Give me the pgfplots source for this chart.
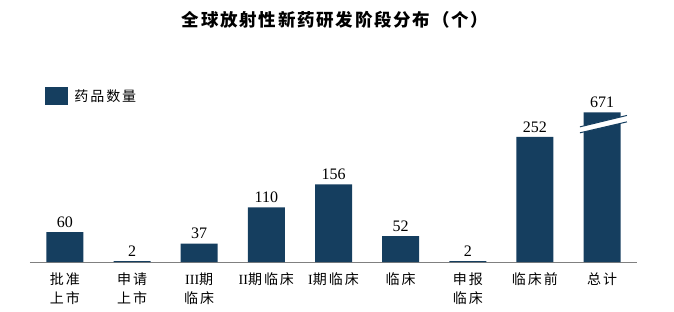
\documentclass[border=0pt]{standalone}
\usepackage{fontspec}
\setmainfont{Liberation Serif}
\newfontfamily\cjk[LetterSpace=14]{Noto Sans CJK SC}
\newfontfamily\cjkt[LetterSpace=10]{Noto Sans CJK SC}
\usepackage{pgfplots}
\pgfplotsset{compat=1.18}
\definecolor{barc}{HTML}{153E5F}
\begin{document}
\begin{tikzpicture}
\begin{axis}[
  name=ax,
  scale only axis,
  width=607pt, height=159pt,
  xmin=-0.52, xmax=8.52, ymin=0, ymax=320,
  hide y axis,
  axis x line*=bottom,
  x axis line style={draw=gray, line width=0.8pt, -},
  xtick={0,...,8},
  xtick style={draw=none},
  xticklabels={{批准\\上市},{申请\\上市},{{\rmfamily III}期\\临床},{{\rmfamily II}期临床},{{\rmfamily I}期临床},{临床},{申报\\临床},{临床前},{总计}},
  xticklabel style={font=\cjk\fontsize{14}{19}\selectfont, align=center, text=black, inner sep=2pt, yshift=-4pt},
  ybar, bar width=37pt,
  clip=false,
  nodes near coords,
  point meta=explicit symbolic,
  every node near coord/.append style={font=\fontsize{16}{18}\selectfont, text=black, yshift=1pt},
  legend style={at={(axis description cs:0.02,1.115)}, anchor=north west, draw=none, fill=none, font=\cjk\fontsize{14}{16}\selectfont,
    /tikz/every odd column/.append style={column sep=4pt}},
  legend image code/.code={\fill[barc] (-4pt,-9pt) rectangle (19pt,9pt);},
]
\addplot[fill=barc, draw=none] table[x=x, y=y, meta=m] {
x y m
0 60 60
1 2 2
2 37 37
3 110 110
4 156 156
5 52 52
6 2 2
7 252 252
8 301 671
};
\addlegendentry{药品数量}
\fill[white] (axis cs:7.67,260) -- (axis cs:8.37,282) -- (axis cs:8.37,295) -- (axis cs:7.67,272) -- cycle;
\draw[barc, line width=1pt] (axis cs:7.67,260) -- (axis cs:8.37,282);
\draw[barc, line width=1pt] (axis cs:7.67,272) -- (axis cs:8.37,295);
\end{axis}
\node[font=\cjkt\bfseries\fontsize{17.5}{19}\selectfont] at ([shift={(305pt,242pt)}]ax.south west) {全球放射性新药研发阶段分布（个）};
\pgfresetboundingbox
\path ([shift={(-30pt,-49pt)}]ax.south west) rectangle ([shift={(644pt,262pt)}]ax.south west);
\end{tikzpicture}
\end{document}
